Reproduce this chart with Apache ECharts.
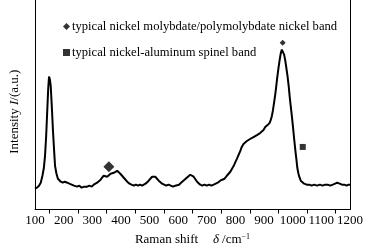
<!DOCTYPE html>
<html>
<head>
<meta charset="utf-8">
<script src="https://cdn.jsdelivr.net/npm/echarts@6/dist/echarts.min.js"></script>
<style>
  html, body { margin: 0; padding: 0; background: #fff; }
  #chart { width: 369px; height: 251px; }
</style>
</head>
<body>
<div id="chart"></div>
<script>
// Raman spectrum (intensity in arbitrary units)
const shift = [
  100, 107, 114, 120, 126, 131, 135, 139, 143, 146, 149, 152, 155, 159, 163, 167, 170, 175, 180, 184,
  190, 197, 204, 213, 220, 228, 236, 247, 255, 263, 272, 282, 290, 298, 305, 311, 317, 323, 329, 335,
  340, 346, 352, 358, 364, 369, 375, 381, 387, 393, 398, 404, 410, 416, 422, 430, 437, 445, 452, 460,
  467, 474, 480, 486, 492, 497, 503, 509, 515, 520, 526, 532, 538, 544, 550, 558, 566, 574, 582, 590,
  596, 603, 610, 616, 622, 630, 636, 642, 648, 654, 660, 666, 672, 677, 684, 692, 700, 708, 716, 724,
  731, 738, 747, 754, 762, 770, 776, 782, 788, 794, 800, 805, 811, 817, 822, 828, 834, 840, 846, 851,
  857, 863, 869, 875, 880, 886, 892, 898, 904, 908, 912, 915, 919, 923, 927, 931, 935, 939, 942, 946,
  950, 954, 958, 962, 966, 970, 974, 978, 982, 986, 990, 993, 997, 1001, 1005, 1009, 1013, 1016, 1020, 1024,
  1028, 1034, 1040, 1049, 1058, 1066, 1075, 1085, 1095, 1104, 1113, 1122, 1131, 1140, 1148, 1155, 1159, 1164, 1172, 1180,
  1188, 1195, 1200
]
const intensity = [
  21, 22, 24, 27, 34, 42, 54, 74, 101, 121, 134, 131, 124, 102, 78, 58, 44, 36, 31, 29,
  28, 27, 28, 27, 26, 25, 24, 23, 24, 22, 23, 23, 24, 23, 25, 24, 27, 29, 30, 32,
  34, 34, 33, 35, 36, 35, 37, 36, 39, 38, 36, 34, 32, 30, 28, 26, 25, 24, 25, 24,
  25, 24, 25, 26, 28, 29, 31, 33, 34, 33, 31, 29, 27, 26, 25, 24, 25, 24, 23, 24,
  24, 25, 27, 29, 30, 32, 34, 35, 34, 33, 31, 28, 26, 25, 24, 25, 24, 25, 24, 25,
  26, 27, 29, 30, 31, 34, 35, 38, 41, 44, 48, 51, 55, 59, 63, 66, 68, 69, 70, 71,
  72, 73, 74, 75, 76, 77, 79, 80, 83, 81, 85, 84, 87, 90, 94, 100, 108, 116, 123, 133,
  142, 150, 157, 161, 160, 156, 150, 142, 134, 124, 112, 104, 94, 83, 71, 60, 50, 42, 36, 32,
  29, 27, 26, 25, 25, 24, 25, 24, 25, 24, 25, 25, 24, 25, 26, 27, 28, 26, 25, 25,
  24, 25, 25
]

// marker positions [shift, intensity, size]
const diamondPts = [[358, 43, 11], [965, 168, 6]]
const squarePts = [[1035, 63, 6]]

const xTicks = [100, 200, 300, 400, 500, 600, 700, 800, 900, 1000, 1100, 1200]

const molyName = 'typical nickel molybdate/polymolybdate nickel band'
const spinelName = 'typical nickel-aluminum spinel band'

const FONT = 'Liberation Serif'

const chart = echarts.init(document.getElementById('chart'))
chart.setOption({
  animation: false,
  backgroundColor: '#fff',
  textStyle: { fontFamily: FONT, color: '#000' },
  grid: { left: 34, right: 19, top: -2, bottom: 40 },
  legend: {
    orient: 'vertical',
    left: 58, top: 15,
    itemWidth: 7, itemHeight: 7, itemGap: 13,
    textStyle: { fontFamily: FONT, fontSize: 12.6, color: '#000', padding: [0, 0, 0, -3] },
    data: [
      { name: molyName, icon: 'diamond' },
      { name: spinelName, icon: 'rect' },
    ],
  },
  xAxis: {
    type: 'value',
    min: xTicks[0], max: xTicks[xTicks.length - 1], interval: 100,
    axisLine: { lineStyle: { color: '#000', width: 1 } },
    axisTick: { show: false },
    minorTick: { show: true, splitNumber: 2, length: 4, lineStyle: { color: '#000' } },
    splitLine: { show: false },
    axisLabel: { color: '#000', fontFamily: FONT, fontSize: 13, margin: 5, formatter: v => String(v) },
    name: '{n|Raman shift}     {d|δ} {n|/cm}{s|−1}',
    nameLocation: 'middle',
    nameGap: 23,
    nameTextStyle: {
      rich: {
        n: { fontFamily: FONT, fontSize: 13, color: '#000' },
        d: { fontFamily: FONT, fontSize: 13, fontStyle: 'italic', color: '#000' },
        s: { fontFamily: FONT, fontSize: 8, color: '#000', verticalAlign: 'top', padding: [0, 0, 6, 0] },
      },
    },
  },
  yAxis: [
    {
      type: 'value', min: 0, max: 211,
      axisLine: { show: true, lineStyle: { color: '#000', width: 1 } },
      axisTick: { show: false }, axisLabel: { show: false }, splitLine: { show: false },
      name: '{n|Intensity }{i|I}{n|/(a.u.)}',
      nameLocation: 'middle',
      nameGap: 14,
      nameTextStyle: {
        padding: [0, 14, 0, 0],
        rich: {
          n: { fontFamily: FONT, fontSize: 13, color: '#000' },
          i: { fontFamily: FONT, fontSize: 13, fontStyle: 'italic', color: '#000' },
        },
      },
    },
    {
      type: 'value', min: 0, max: 211, position: 'right',
      axisLine: { show: true, lineStyle: { color: '#000', width: 1 } },
      axisTick: { show: false }, axisLabel: { show: false }, splitLine: { show: false },
    },
  ],
  series: [
    {
      name: 'spectrum', type: 'line',
      data: shift.map((x, i) => [x, intensity[i]]),
      symbol: 'none',
      lineStyle: { color: '#000', width: 2 },
    },
    {
      name: molyName, type: 'scatter', symbol: 'diamond',
      data: diamondPts.map(p => ({ value: [p[0], p[1]], symbolSize: p[2] })),
      itemStyle: { color: '#000' },
      z: 5,
    },
    {
      name: spinelName, type: 'scatter', symbol: 'rect',
      data: squarePts.map(p => ({ value: [p[0], p[1]], symbolSize: p[2] })),
      itemStyle: { color: '#000' },
      z: 5,
    },
  ],
})
</script>
</body>
</html>
